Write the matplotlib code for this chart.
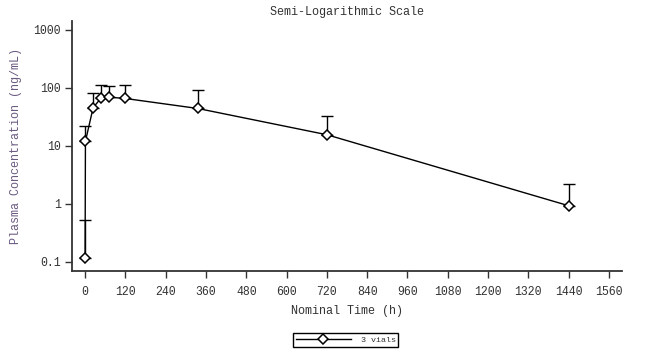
import matplotlib
matplotlib.use("Agg")
import matplotlib.pyplot as plt
from matplotlib.lines import Line2D
import numpy as np

# Data
time_h = [0, 1, 24, 48, 72, 120, 336, 720, 1440]
conc_mean = [0.115, 11.9, 45.7, 67, 69, 65.5, 44, 15.5, 0.92]
conc_upper = [0.52, 22, 80, 110, 107, 110, 91, 32.5, 2.19]
x_ticks = [0, 120, 240, 360, 480, 600, 720, 840, 960, 1080, 1200, 1320, 1440, 1560]
y_ticks = [0.1, 1, 10, 100, 1000]
y_ticklabels = ["0.1", "1", "10", "100", "1000"]
series_label = "3 vials"

FONT = "Liberation Mono"
TXT = "#333333"

fig = plt.figure(figsize=(6.55, 3.59), dpi=100)
ax = fig.add_axes([72/655, 1-271/359, 550/655, 250/359])

mean = np.array(conc_mean)
upper = np.array(conc_upper)
yerr = [np.zeros_like(mean), upper - mean]

ax.errorbar(time_h, conc_mean, yerr=yerr, fmt='none', ecolor='black',
            elinewidth=1.0, capsize=4.5, capthick=1.0, zorder=2)
ax.plot(time_h, conc_mean, color='black', lw=1.0, marker='D', markersize=4.6,
        markerfacecolor='white', markeredgecolor='black', markeredgewidth=1.1, zorder=3)

ax.set_yscale('log')
ax.set_xlim(-39, 1599)
ax.set_ylim(10**-1.164, 10**3.155)
ax.set_xticks(x_ticks)
ax.set_xticklabels([str(v) for v in x_ticks])
ax.set_yticks(y_ticks)
ax.set_yticklabels(y_ticklabels)
ax.yaxis.set_minor_locator(matplotlib.ticker.NullLocator())

for s in ['top', 'right']:
    ax.spines[s].set_visible(False)
for s in ['left', 'bottom']:
    ax.spines[s].set_color('#333333')
    ax.spines[s].set_linewidth(1.3)

ax.tick_params(axis='both', direction='out', length=5, width=1.0, color='#333333',
               labelcolor=TXT, labelsize=8.3)
ax.tick_params(axis='y', pad=3)
ax.tick_params(axis='x', pad=6)
for lbl in ax.get_xticklabels() + ax.get_yticklabels():
    lbl.set_fontfamily(FONT)

ax.set_title("Semi-Logarithmic Scale", fontfamily=FONT, fontsize=8.5, color=TXT, pad=4)
ax.set_xlabel("Nominal Time (h)", fontfamily=FONT, fontsize=8.5, color=TXT, labelpad=5)
ax.set_ylabel("Plasma Concentration (ng/mL)", fontfamily=FONT, fontsize=8.5,
              color='#6a5a80', labelpad=8)

handle = Line2D([], [], color='black', lw=1.0, marker='D', markersize=4.6,
                markerfacecolor='white', markeredgecolor='black', markeredgewidth=1.1)
leg = fig.legend([handle], [series_label], loc='center',
                 bbox_to_anchor=(346/655, 1-340/359), frameon=True, fancybox=False,
                 edgecolor='black', framealpha=1, handlelength=6.5, handletextpad=1.2,
                 borderpad=0.35, prop={'family': FONT, 'size': 6})
leg.get_frame().set_linewidth(1.0)
for t in leg.get_texts():
    t.set_color(TXT)

fig.savefig("out.png", dpi=100)
